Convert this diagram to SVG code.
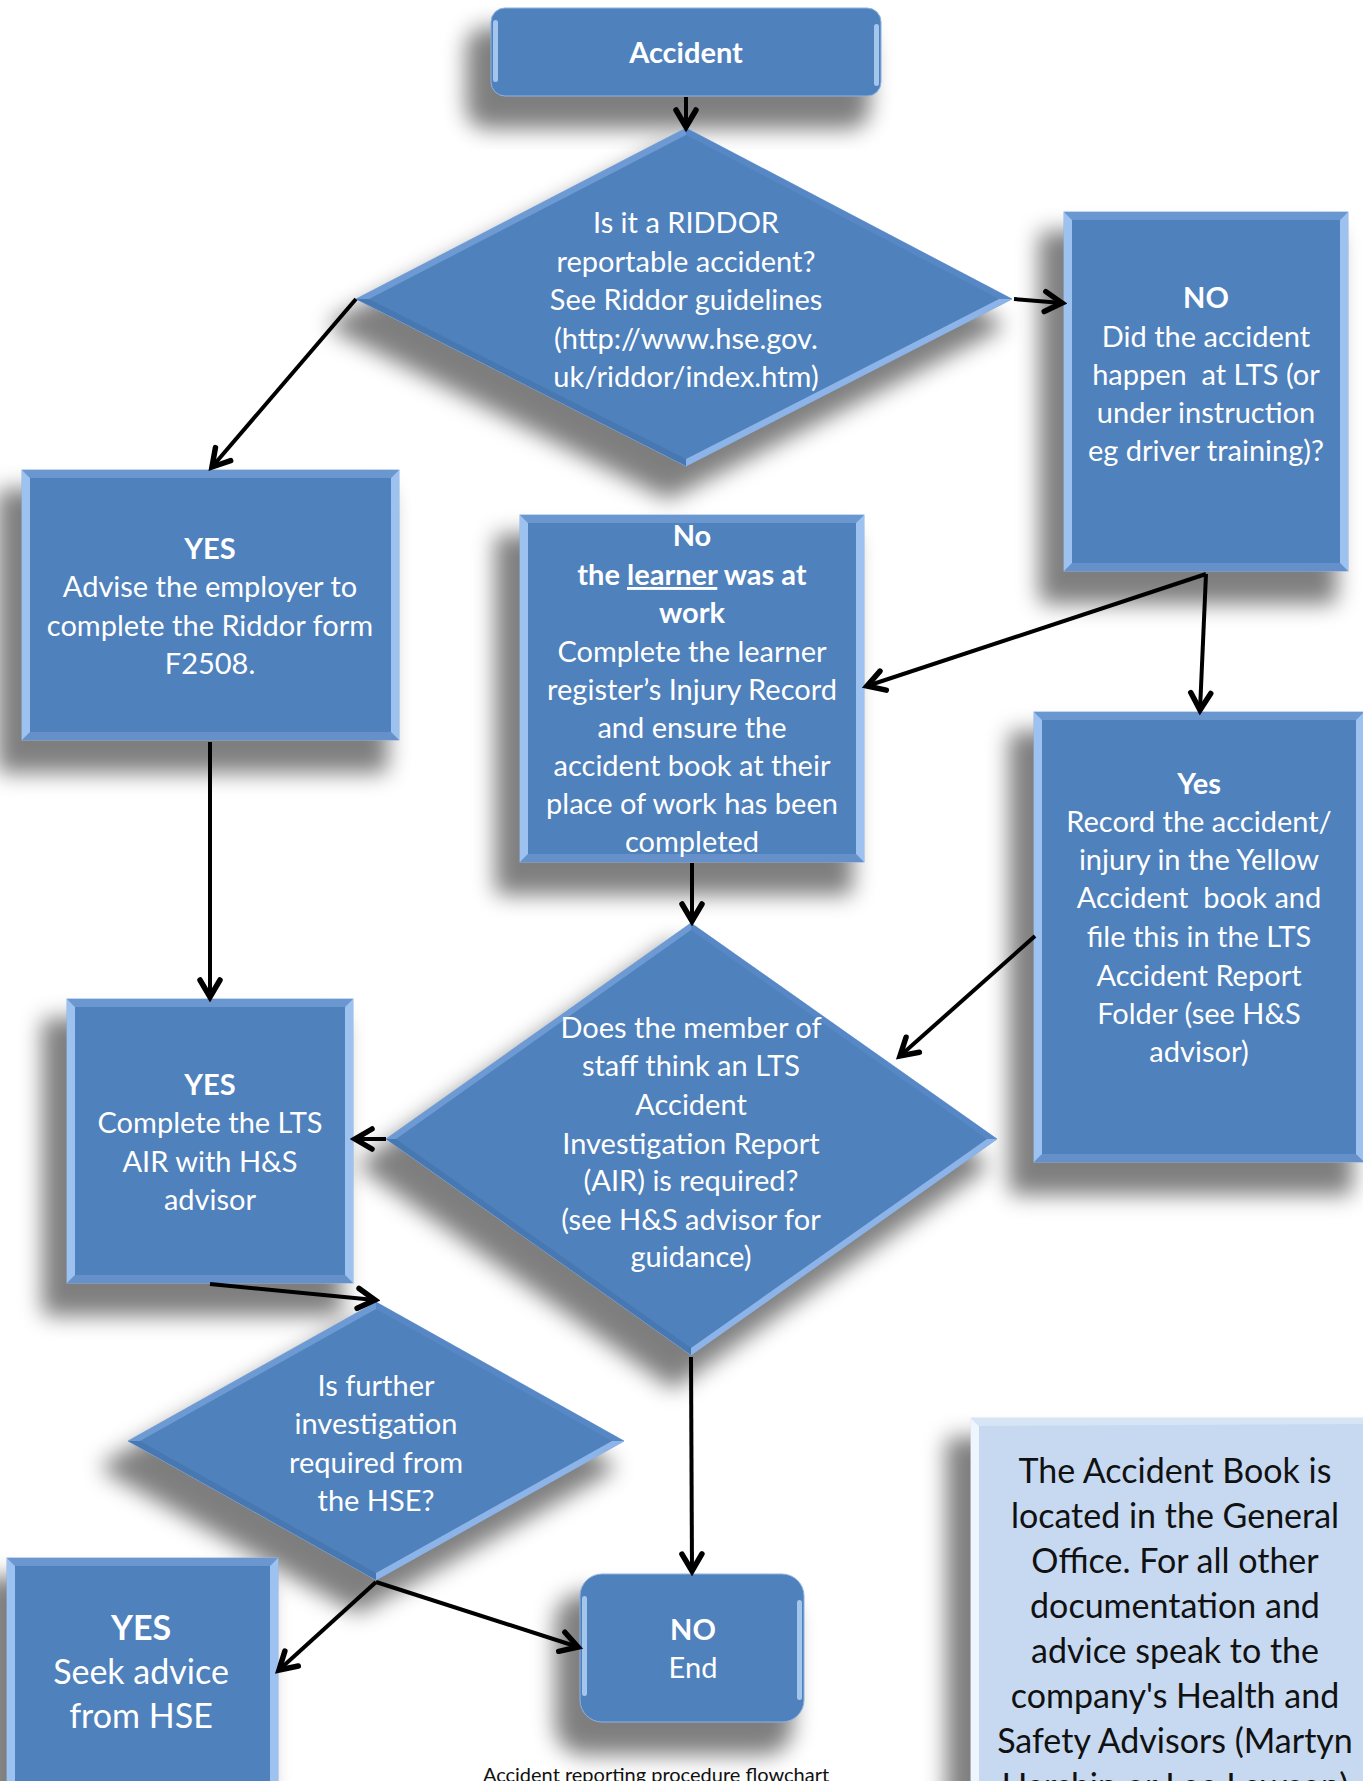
<svg xmlns="http://www.w3.org/2000/svg" width="1363" height="1781" viewBox="0 0 1363 1781">
<defs>
<style>
.sh{fill:#000;stroke:#000;stroke-width:14;stroke-linejoin:round;opacity:.5;filter:url(#blur)}
.base{fill:#4f81bd;stroke:#8db3e2;stroke-width:1}
.bl{fill:#9ec2ef}
.bt{fill:#6a97d0}
.bb{fill:#6590c9}
.hl{fill:#b3d1f5;fill-opacity:.85}
.dl{fill:#8cb4e8}
.dm{fill:#6e9ad3}
.dt{fill:#5788c5}
.dd{fill:#4878b2}
.t{font-family:Lato,'Open Sans','Liberation Sans',sans-serif;font-size:29px;fill:#fff;text-anchor:middle}
.b{font-weight:bold}
.big{font-size:34px}
.dark{fill:#111}
.conn line{stroke:#000;stroke-width:4;fill:none;marker-end:url(#ah)}
</style>
<filter id="blur" x="-30%" y="-30%" width="160%" height="160%"><feGaussianBlur stdDeviation="11"/></filter>
<marker id="ah" viewBox="0 0 26 28" refX="21" refY="14" markerWidth="26" markerHeight="28" markerUnits="userSpaceOnUse" orient="auto">
<path d="M4,4 L21,14 L4,24" fill="none" stroke="#000" stroke-width="5.5" stroke-linecap="round"/>
</marker>
</defs>
<rect width="1363" height="1781" fill="#fff"/>

<g id="n-accident">
<rect class="sh" x="491" y="8" width="390" height="88" rx="14" transform="translate(-18,26)"/>
<rect class="base" x="491" y="8" width="390" height="88" rx="14"/>
<rect class="hl" x="493" y="20" width="5" height="62" rx="2.5"/>
<rect class="hl" x="874" y="24" width="5" height="62" rx="2.5"/>
<text class="t b" x="686" y="63">Accident</text>
</g>

<g id="n-riddor">
<polygon class="sh" points="686,128 1012,299 686,466 356,299" transform="translate(-18,26)"/>
<polygon class="base" points="686,128 1012,299 686,466 356,299"/>
<polygon class="dl" points="1012,299 686,466 686,459 999,299"/>
<polygon class="dm" points="356,299 686,128 686,135 369,299"/>
<polygon class="dt" points="686,128 1012,299 999,299 686,135"/>
<polygon class="dd" points="356,299 686,466 686,459 369,299"/>
<text class="t" x="686" y="233">Is it a RIDDOR</text>
<text class="t" x="686" y="271.5">reportable accident?</text>
<text class="t" x="686" y="310">See Riddor guidelines</text>
<text class="t" x="686" y="348.5">(http://www.hse.gov.</text>
<text class="t" x="686" y="387">uk/riddor/index.htm)</text>
</g>

<g id="n-no-lts">
<rect class="sh" x="1064" y="212" width="284" height="359" transform="translate(-18,26)"/>
<rect class="base" x="1064" y="212" width="284" height="359"/>
<polygon class="bt" points="1064,212 1348,212 1340,220 1072,220"/>
<polygon class="bb" points="1064,571 1348,571 1340,563 1072,563"/>
<polygon class="bl" points="1064,212 1072,220 1072,563 1064,571"/>
<polygon class="bl" points="1348,212 1340,220 1340,563 1348,571"/>
<text class="t b" x="1206" y="308">NO</text>
<text class="t" x="1206" y="347">Did the accident</text>
<text class="t" x="1206" y="385" xml:space="preserve">happen  at LTS (or</text>
<text class="t" x="1206" y="423">under instruction</text>
<text class="t" x="1206" y="461">eg driver training)?</text>
</g>

<g id="n-yes-riddor">
<rect class="sh" x="22" y="470" width="377" height="270" transform="translate(-18,26)"/>
<rect class="base" x="22" y="470" width="377" height="270"/>
<polygon class="bt" points="22,470 399,470 391,478 30,478"/>
<polygon class="bb" points="22,740 399,740 391,732 30,732"/>
<polygon class="bl" points="22,470 30,478 30,732 22,740"/>
<polygon class="bl" points="399,470 391,478 391,732 399,740"/>
<text class="t b" x="210" y="559">YES</text>
<text class="t" x="210" y="597">Advise the employer to</text>
<text class="t" x="210" y="636">complete the Riddor form</text>
<text class="t" x="210" y="674">F2508.</text>
</g>

<g id="n-no-work">
<rect class="sh" x="520" y="515" width="344" height="347" transform="translate(-18,26)"/>
<rect class="base" x="520" y="515" width="344" height="347"/>
<polygon class="bt" points="520,515 864,515 856,523 528,523"/>
<polygon class="bb" points="520,862 864,862 856,854 528,854"/>
<polygon class="bl" points="520,515 528,523 528,854 520,862"/>
<polygon class="bl" points="864,515 856,523 856,854 864,862"/>
<text class="t b" x="692" y="546">No</text>
<text class="t b" x="692" y="585">the <tspan style="text-decoration:underline">learner</tspan> was at</text>
<text class="t b" x="692" y="623">work</text>
<text class="t" x="692" y="662">Complete the learner</text>
<text class="t" x="692" y="700">register’s Injury Record</text>
<text class="t" x="692" y="738">and ensure the</text>
<text class="t" x="692" y="776">accident book at their</text>
<text class="t" x="692" y="814">place of work has been</text>
<text class="t" x="692" y="852">completed</text>
</g>

<g id="n-yes-lts">
<rect class="sh" x="1034" y="712" width="330" height="450" transform="translate(-18,26)"/>
<rect class="base" x="1034" y="712" width="330" height="450"/>
<polygon class="bt" points="1034,712 1364,712 1356,720 1042,720"/>
<polygon class="bb" points="1034,1162 1364,1162 1356,1154 1042,1154"/>
<polygon class="bl" points="1034,712 1042,720 1042,1154 1034,1162"/>
<polygon class="bl" points="1364,712 1356,720 1356,1154 1364,1162"/>
<text class="t b" x="1199" y="794">Yes</text>
<text class="t" x="1199" y="832">Record the accident/</text>
<text class="t" x="1199" y="870">injury in the Yellow</text>
<text class="t" x="1199" y="908" xml:space="preserve">Accident  book and</text>
<text class="t" x="1199" y="947">file this in the LTS</text>
<text class="t" x="1199" y="986">Accident Report</text>
<text class="t" x="1199" y="1024">Folder (see H&amp;S</text>
<text class="t" x="1199" y="1062">advisor)</text>
</g>

<g id="n-air-q">
<polygon class="sh" points="691,923 997,1139 691,1355 386,1139" transform="translate(-18,26)"/>
<polygon class="base" points="691,923 997,1139 691,1355 386,1139"/>
<polygon class="dl" points="997,1139 691,1355 691,1348 987,1139"/>
<polygon class="dm" points="386,1139 691,923 691,930 396,1139"/>
<polygon class="dt" points="691,923 997,1139 987,1139 691,930"/>
<polygon class="dd" points="386,1139 691,1355 691,1348 396,1139"/>
<text class="t" x="691" y="1038">Does the member of</text>
<text class="t" x="691" y="1076">staff think an LTS</text>
<text class="t" x="691" y="1115">Accident</text>
<text class="t" x="691" y="1154">Investigation Report</text>
<text class="t" x="691" y="1191">(AIR) is required?</text>
<text class="t" x="691" y="1230">(see H&amp;S advisor for</text>
<text class="t" x="691" y="1267">guidance)</text>
</g>

<g id="n-yes-air">
<rect class="sh" x="67" y="999" width="286" height="284" transform="translate(-18,26)"/>
<rect class="base" x="67" y="999" width="286" height="284"/>
<polygon class="bt" points="67,999 353,999 345,1007 75,1007"/>
<polygon class="bb" points="67,1283 353,1283 345,1275 75,1275"/>
<polygon class="bl" points="67,999 75,1007 75,1275 67,1283"/>
<polygon class="bl" points="353,999 345,1007 345,1275 353,1283"/>
<text class="t b" x="210" y="1095">YES</text>
<text class="t" x="210" y="1133">Complete the LTS</text>
<text class="t" x="210" y="1172">AIR with H&amp;S</text>
<text class="t" x="210" y="1210">advisor</text>
</g>

<g id="n-hse-q">
<polygon class="sh" points="376,1302 624,1441 376,1580 128,1441" transform="translate(-18,26)"/>
<polygon class="base" points="376,1302 624,1441 376,1580 128,1441"/>
<polygon class="dl" points="624,1441 376,1580 376,1573 612,1441"/>
<polygon class="dm" points="128,1441 376,1302 376,1309 140,1441"/>
<polygon class="dt" points="376,1302 624,1441 612,1441 376,1309"/>
<polygon class="dd" points="128,1441 376,1580 376,1573 140,1441"/>
<text class="t" x="376" y="1396">Is further</text>
<text class="t" x="376" y="1434">investigation</text>
<text class="t" x="376" y="1473">required from</text>
<text class="t" x="376" y="1511">the HSE?</text>
</g>

<g id="n-yes-hse">
<rect class="sh" x="7" y="1558" width="271" height="240" transform="translate(-18,26)"/>
<rect class="base" x="7" y="1558" width="271" height="240"/>
<polygon class="bt" points="7,1558 278,1558 270,1566 15,1566"/>
<polygon class="bl" points="7,1558 15,1566 15,1790 7,1798"/>
<polygon class="bl" points="278,1558 270,1566 270,1790 278,1798"/>
<text class="t b big" x="141" y="1640">YES</text>
<text class="t big" x="141" y="1684">Seek advice</text>
<text class="t big" x="141" y="1728">from HSE</text>
</g>

<g id="n-end">
<rect class="sh" x="580" y="1574" width="224" height="148" rx="22" transform="translate(-18,26)"/>
<rect class="base" x="580" y="1574" width="224" height="148" rx="22"/>
<rect class="hl" x="582" y="1596" width="5" height="100" rx="2.5"/>
<rect class="hl" x="797" y="1600" width="5" height="100" rx="2.5"/>
<text class="t b" x="693" y="1640">NO</text>
<text class="t" x="693" y="1678">End</text>
</g>

<g id="n-note">
<rect class="sh" x="971" y="1418" width="420" height="400" transform="translate(-18,26)"/>
<rect x="971" y="1418" width="420" height="400" fill="#c6d9f1" stroke="#dbe7f6" stroke-width="1"/>
<polygon points="971,1418 979,1426 979,1818 971,1818" fill="#eef5fd"/>
<polygon points="971,1418 1391,1418 1383,1424 979,1426" fill="#d6e4f5"/>
<text class="t big dark" x="1175" y="1483">The Accident Book is</text>
<text class="t big dark" x="1175" y="1528">located in the General</text>
<text class="t big dark" x="1175" y="1573">Office. For all other</text>
<text class="t big dark" x="1175" y="1618">documentation and</text>
<text class="t big dark" x="1175" y="1663">advice speak to the</text>
<text class="t big dark" x="1175" y="1708">company's Health and</text>
<text class="t big dark" x="1175" y="1753">Safety Advisors (Martyn</text>
<text class="t big dark" x="1175" y="1798">Harshin or Lee Lawson)</text>
</g>

<g id="connectors" class="conn">
<line x1="686" y1="97" x2="686" y2="127"/>
<line x1="356" y1="299" x2="212" y2="467"/>
<line x1="1014" y1="299" x2="1062" y2="303"/>
<line x1="1206" y1="574" x2="867" y2="686"/>
<line x1="1206" y1="574" x2="1200" y2="710"/>
<line x1="210" y1="742" x2="210" y2="997"/>
<line x1="692" y1="863" x2="692" y2="921"/>
<line x1="1035" y1="936" x2="900" y2="1056"/>
<line x1="386" y1="1139" x2="355" y2="1139"/>
<line x1="210" y1="1284" x2="375" y2="1300"/>
<line x1="691" y1="1357" x2="692" y2="1571"/>
<line x1="376" y1="1582" x2="279" y2="1670"/>
<line x1="376" y1="1582" x2="578" y2="1647"/>
</g>

<text class="t dark" style="font-size:20px" x="656" y="1782">Accident reporting procedure flowchart</text>
</svg>
